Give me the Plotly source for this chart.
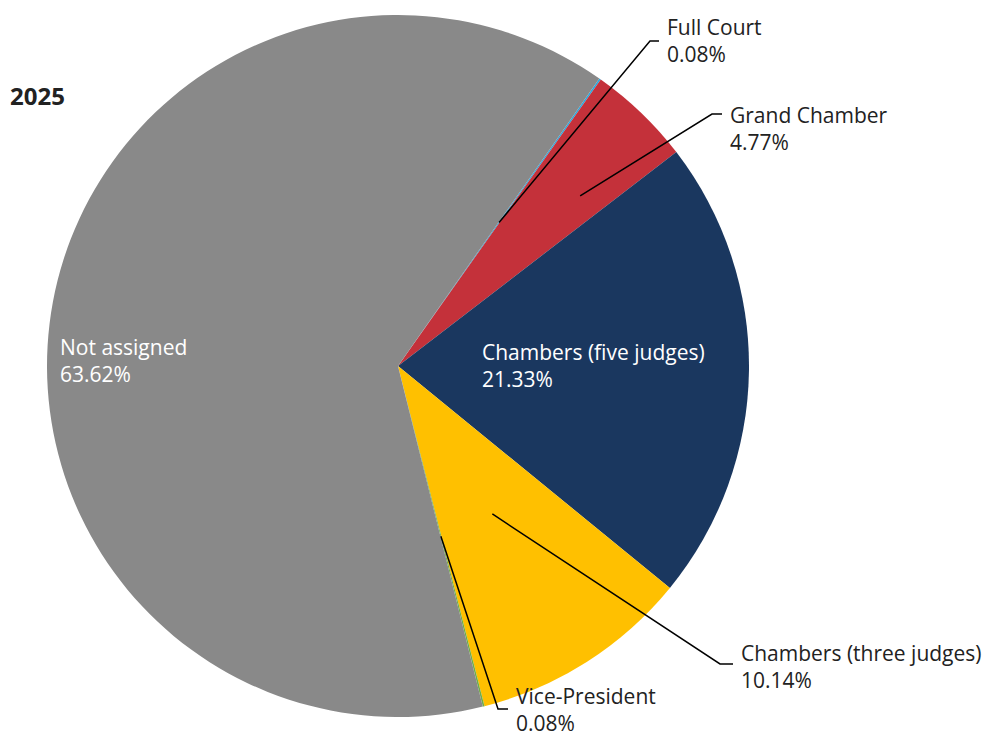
import math

import plotly.graph_objects as go

W, H = 987, 734

labels = [
    "Full Court",
    "Grand Chamber",
    "Chambers (five judges)",
    "Chambers (three judges)",
    "Vice-President",
    "Not assigned",
]
shares = [0.08, 4.77, 21.33, 10.14, 0.08, 63.62]
colors = ["#29abe2", "#c4313a", "#1a375f", "#ffc000", "#70ad47", "#898989"]
year = "2025"

# pie geometry in pixels
CX, CY, R = 398, 366, 351
ROTATION = 35

# label placement: text left x, text block centre y, elbow x, elbow y,
# leader start radius fraction, angle nudge (deg); inside labels have no leader
label_style = {
    "Full Court": dict(tx=667, ty=41, ex=650, ey=41, frac=0.5, nudge=0.0),
    "Grand Chamber": dict(tx=730, ty=128, ex=712, ey=114, frac=0.71, nudge=3.1),
    "Chambers (three judges)": dict(tx=741, ty=666, ex=720, ey=664, frac=0.5, nudge=0.0),
    "Vice-President": dict(tx=516, ty=709, ex=498, ey=709, frac=0.5, nudge=0.0),
    "Chambers (five judges)": dict(tx=482, ty=366, inside=True),
    "Not assigned": dict(tx=60, ty=360, inside=True),
}
TEXT_PAD = 2  # annotation box padding before the glyphs start


def px(x):
    return x / W


def py(y):
    return 1 - y / H


fig = go.Figure(
    go.Pie(
        labels=labels,
        values=shares,
        sort=False,
        direction="clockwise",
        rotation=ROTATION,
        marker={"colors": colors, "line": {"width": 0}},
        textinfo="none",
        hoverinfo="label+percent",
        domain={"x": [px(CX - R), px(CX + R)], "y": [py(CY + R), py(CY - R)]},
        showlegend=False,
    )
)

total = sum(shares)
annotations = []
shapes = []
cum = 0.0
for name, val in zip(labels, shares):
    mid = ROTATION + (cum + val / 2) / total * 360
    cum += val
    st = label_style[name]
    inside = st.get("inside", False)
    annotations.append(
        dict(
            x=px(st["tx"] - TEXT_PAD),
            y=py(st["ty"]),
            xref="paper",
            yref="paper",
            xanchor="left",
            yanchor="middle",
            align="left",
            showarrow=False,
            text=f"{name}<br>{val:.2f}%",
            font={"size": 21, "color": "#ffffff" if inside else "#222222"},
        )
    )
    if inside:
        continue
    ang = math.radians(mid + st["nudge"])
    sx = CX + st["frac"] * R * math.sin(ang)
    sy = CY - st["frac"] * R * math.cos(ang)
    path = (
        f"M {px(sx)},{py(sy)} L {px(st['ex'])},{py(st['ey'])} "
        f"L {px(st['tx'] - 8)},{py(st['ey'])}"
    )
    shapes.append(
        dict(
            type="path",
            path=path,
            xref="paper",
            yref="paper",
            line={"color": "#000000", "width": 1.5},
        )
    )

annotations.append(
    dict(
        x=px(8),
        y=py(96),
        xref="paper",
        yref="paper",
        xanchor="left",
        yanchor="middle",
        showarrow=False,
        text=f"<b>{year}</b>",
        font={"size": 24, "color": "#222222"},
    )
)

fig.update_layout(
    width=W,
    height=H,
    margin={"l": 0, "r": 0, "t": 0, "b": 0},
    paper_bgcolor="#ffffff",
    plot_bgcolor="#ffffff",
    font={"family": "Open Sans, sans-serif"},
    annotations=annotations,
    shapes=shapes,
)

# drop the browser's default body margin so the figure sits at the page origin
fig.write_html(
    "out.html",
    config={"displayModeBar": False},
    post_script="document.body.style.margin = '0';",
)
